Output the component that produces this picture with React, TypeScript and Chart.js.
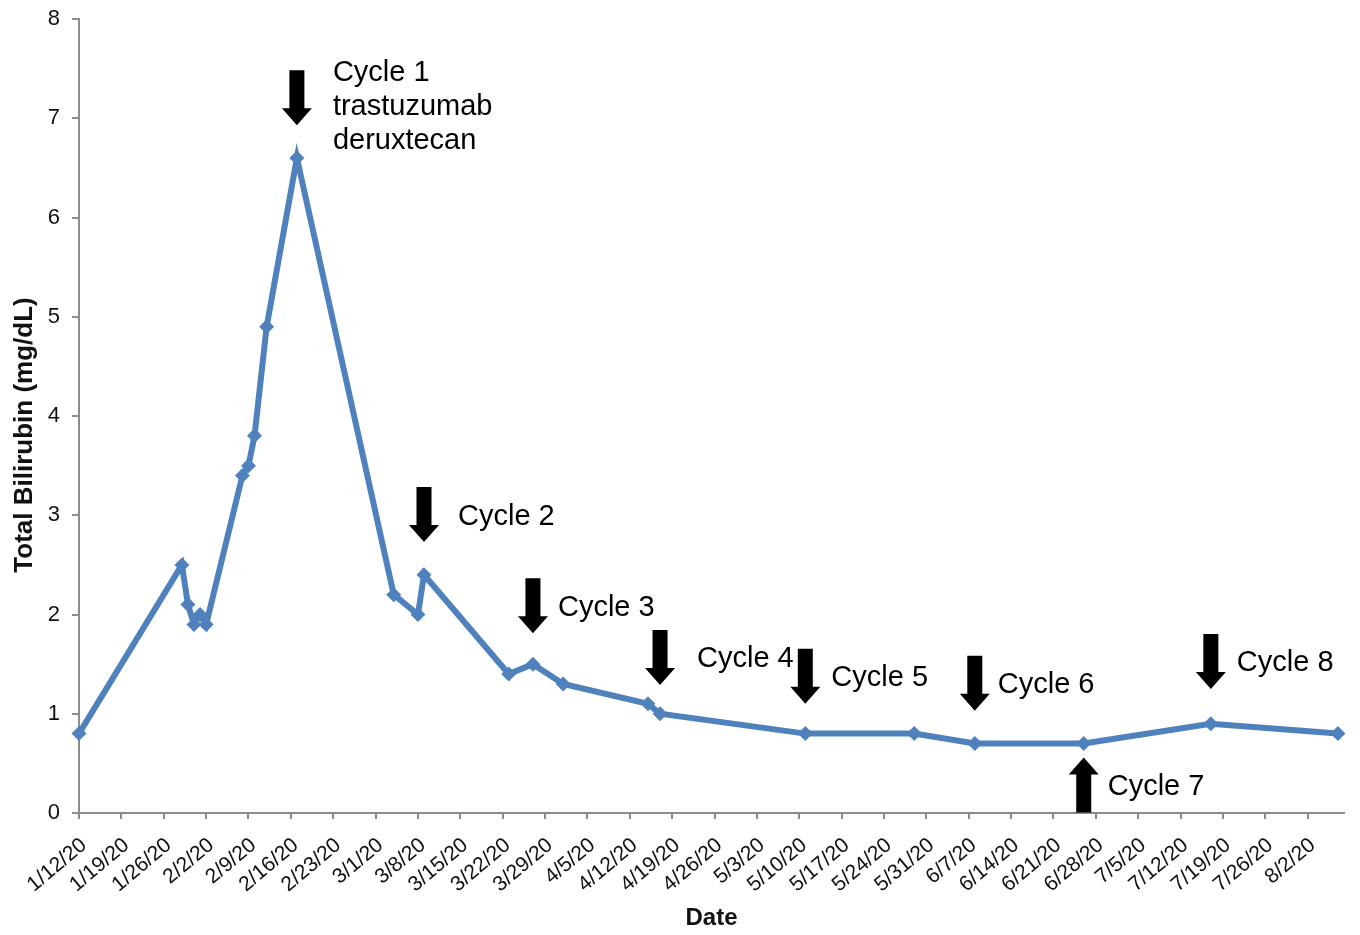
import React, { useEffect, useRef } from "react";
import { Chart, registerables } from "chart.js";

Chart.register(...registerables);

const FONT = "'Liberation Sans', Arial, Helvetica, sans-serif";

// Measurement dates and total bilirubin values (mg/dL)
const dates = [
  "1/12/20", "1/29/20", "1/30/20", "1/31/20", "2/1/20", "2/2/20", "2/8/20", "2/9/20",
  "2/10/20", "2/12/20", "2/17/20", "3/4/20", "3/8/20", "3/9/20", "3/23/20", "3/27/20",
  "4/1/20", "4/15/20", "4/17/20", "5/11/20", "5/29/20", "6/8/20", "6/26/20", "7/17/20", "8/7/20",
];
const bilirubin = [
  0.8, 2.5, 2.1, 1.9, 2.0, 1.9, 3.4, 3.5,
  3.8, 4.9, 6.6, 2.2, 2.0, 2.4, 1.4, 1.5,
  1.3, 1.1, 1.0, 0.8, 0.8, 0.7, 0.7, 0.9, 0.8,
];

// X axis tick labels (weekly)
const tickLabels = [
  "1/12/20", "1/19/20", "1/26/20", "2/2/20", "2/9/20", "2/16/20", "2/23/20", "3/1/20",
  "3/8/20", "3/15/20", "3/22/20", "3/29/20", "4/5/20", "4/12/20", "4/19/20", "4/26/20",
  "5/3/20", "5/10/20", "5/17/20", "5/24/20", "5/31/20", "6/7/20", "6/14/20", "6/21/20",
  "6/28/20", "7/5/20", "7/12/20", "7/19/20", "7/26/20", "8/2/20",
];
const axisStart = "1/12/20";
const axisEnd = "8/8/20";
const yTickValues = [0, 1, 2, 3, 4, 5, 6, 7, 8];
const yTitle = "Total Bilirubin (mg/dL)";
const xTitle = "Date";

// Treatment cycle annotations
const cycleDates = ["2/17/20", "3/9/20", "3/27/20", "4/17/20", "5/11/20", "6/8/20", "6/26/20", "7/17/20"];
const cycleTexts = [
  ["Cycle 1", "trastuzumab", "deruxtecan"],
  ["Cycle 2"], ["Cycle 3"], ["Cycle 4"], ["Cycle 5"], ["Cycle 6"], ["Cycle 7"], ["Cycle 8"],
];
const cycleTipValues = [6.93, 2.73, 1.81, 1.29, 1.1, 1.03, 0.56, 1.25];
const cyclePointsUp = [false, false, false, false, false, false, true, false];

// annotation styling (pixels)
const cycleTextDx = [36, 34, 25, 37, 26, 23, 24, 26];
const ARROW_LEN = 55;
const HEAD_LEN = 17;
const HEAD_W = 30;
const SHAFT_W = 15;
const LINE_H = 34;

const START = Date.UTC(2020, 0, 12);
function dayOf(label: string): number {
  const [m, d, y] = label.split("/").map(Number);
  return Math.round((Date.UTC(2000 + y, m - 1, d) - START) / 86400000);
}

const arrowPlugin = {
  id: "cycleArrows",
  afterDatasetsDraw(chart: any) {
    const ctx = chart.ctx as CanvasRenderingContext2D;
    const xs = chart.scales.x;
    const ys = chart.scales.y;
    ctx.save();
    ctx.fillStyle = "#000";
    ctx.font = `29px ${FONT}`;
    ctx.textAlign = "left";
    ctx.textBaseline = "middle";
    cycleDates.forEach((d, i) => {
      const x = xs.getPixelForValue(dayOf(d));
      const tip = ys.getPixelForValue(cycleTipValues[i]);
      const up = cyclePointsUp[i];
      const dir = up ? -1 : 1;
      const base = tip - dir * ARROW_LEN;
      const headStart = tip - dir * HEAD_LEN;
      ctx.beginPath();
      ctx.moveTo(x - SHAFT_W / 2, base);
      ctx.lineTo(x + SHAFT_W / 2, base);
      ctx.lineTo(x + SHAFT_W / 2, headStart);
      ctx.lineTo(x + HEAD_W / 2, headStart);
      ctx.lineTo(x, tip);
      ctx.lineTo(x - HEAD_W / 2, headStart);
      ctx.lineTo(x - SHAFT_W / 2, headStart);
      ctx.closePath();
      ctx.fill();
      const lines = cycleTexts[i];
      const top = Math.min(base, tip);
      const mid = (base + tip) / 2;
      const firstY = lines.length > 1 ? top + 3 : mid + 2;
      lines.forEach((t, k) => {
        ctx.fillText(t, x + cycleTextDx[i], firstY + k * LINE_H);
      });
    });
    // Y axis title (drawn manually to match its offset placement)
    const area = chart.chartArea;
    ctx.save();
    ctx.translate(25, (area.top + area.bottom) / 2 + 19);
    ctx.rotate(-Math.PI / 2);
    ctx.font = `bold 26px ${FONT}`;
    ctx.textAlign = "center";
    ctx.textBaseline = "middle";
    ctx.fillStyle = "#111";
    ctx.fillText(yTitle, 0, 0);
    ctx.restore();
    ctx.restore();
  },
};

export default function App() {
  const ref = useRef<HTMLCanvasElement | null>(null);
  useEffect(() => {
    document.body.style.margin = "0";
    const canvas = ref.current;
    if (!canvas) return;
    const tickDays = tickLabels.map(dayOf);
    const points = dates.map((d, i) => ({ x: dayOf(d), y: bilirubin[i] }));
    const chart = new Chart(canvas, {
      type: "line",
      data: {
        datasets: [
          {
            data: points,
            borderColor: "#4F81BD",
            backgroundColor: "#4F81BD",
            borderWidth: 6,
            pointStyle: "rectRot",
            pointRadius: 7.5,
            pointBorderWidth: 0,
            pointBackgroundColor: "#4F81BD",
            tension: 0,
            clip: false as any,
          },
        ],
      },
      options: {
        responsive: false,
        maintainAspectRatio: false,
        animation: false,
        layout: { padding: { top: 19, right: 16, left: 0, bottom: 0 } },
        plugins: { legend: { display: false }, tooltip: { enabled: false } },
        scales: {
          x: {
            type: "linear",
            min: dayOf(axisStart),
            max: dayOf(axisEnd),
            afterBuildTicks: (s: any) => {
              s.ticks = tickDays.map((v) => ({ value: v }));
            },
            afterFit: (s: any) => {
              s.height = 122;
              s.paddingLeft = 0;
              s.paddingRight = 0;
            },
            ticks: {
              autoSkip: false,
              minRotation: 40,
              maxRotation: 40,
              padding: 14,
              labelOffset: 5,
              color: "#111",
              font: { size: 21, family: FONT },
              callback: (_v: any, i: number) => tickLabels[i],
            },
            grid: { drawOnChartArea: false, drawTicks: true, tickLength: 6, color: "#8c8c8c", lineWidth: 2 },
            border: { color: "#8c8c8c", width: 2 },
            title: {
              display: true,
              text: xTitle,
              color: "#111",
              font: { size: 24, weight: "bold", family: FONT },
              padding: { top: 0, bottom: 2 },
            },
          },
          y: {
            min: 0,
            max: 8,
            afterBuildTicks: (s: any) => {
              s.ticks = yTickValues.map((v) => ({ value: v }));
            },
            afterFit: (s: any) => {
              s.width = 79;
              s.paddingTop = 0;
              s.paddingBottom = 0;
            },
            ticks: {
              padding: 12,
              color: "#111",
              font: { size: 22, family: FONT },
            },
            grid: { drawOnChartArea: false, drawTicks: true, tickLength: 7, color: "#8c8c8c", lineWidth: 2 },
            border: { color: "#8c8c8c", width: 2 },
            title: { display: false },
          },
        },
      },
      plugins: [arrowPlugin],
    });
    return () => chart.destroy();
  }, []);
  return (
    <div style={{ position: "absolute", left: 0, top: 0, width: 1360, height: 935 }}>
      <canvas ref={ref} width={1360} height={935} style={{ display: "block" }} />
    </div>
  );
}
